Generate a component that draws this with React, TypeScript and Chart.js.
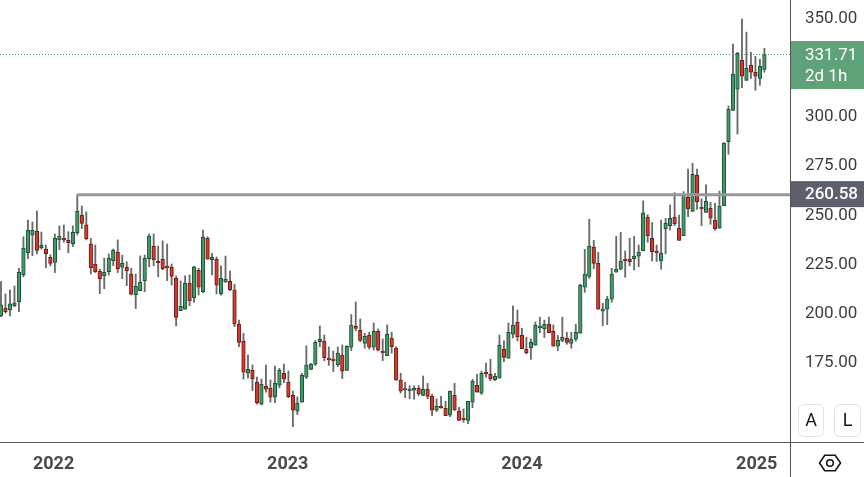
import { useEffect, useRef } from "react";
import { Chart, registerables } from "chart.js";

Chart.register(...registerables);

// weekly candles, first one opens the week of 11 Oct 2021
const firstWeek = Date.UTC(2021, 9, 11);
const yearLabels = ["2022", "2023", "2024", "2025"];
// 325 sits under the last-price label, 150 under the A/L buttons
const priceTicks = [175, 200, 225, 250, 275, 300, 325, 350];

const openPrices = [
  199.0, 203.0, 202.0, 204.2, 206.3, 219.9, 231.1, 240.0, 242.0, 233.7,
  232.9, 228.8, 226.2, 237.7, 238.1, 237.4, 235.7, 241.3, 250.2, 245.2,
  235.5, 225.2, 221.7, 219.5, 221.5, 227.1, 231.3, 223.7, 223.7, 220.2,
  209.8, 211.8, 216.9, 228.1, 234.4, 226.8, 227.8, 223.9, 223.7, 218.1,
  201.7, 202.4, 215.7, 208.3, 222.2, 211.3, 238.4, 227.6, 227.8, 210.3,
  216.1, 216.6, 212.2, 194.8, 186.1, 169.9, 171.4, 165.3, 154.2, 163.3,
  162.3, 157.7, 163.8, 169.9, 165.3, 158.7, 150.6, 155.2, 167.9, 171.9,
  174.5, 186.0, 186.1, 177.5, 176.7, 174.3, 179.1, 171.4, 183.1, 193.8,
  191.7, 185.1, 189.2, 183.1, 191.2, 180.7, 178.8, 187.7, 182.6, 166.4,
  161.8, 161.1, 161.3, 162.3, 158.7, 161.8, 158.2, 151.1, 153.1, 152.1,
  148.6, 158.7, 150.6, 146.7, 146.0, 155.2, 163.8, 159.8, 170.1, 169.4,
  166.6, 167.4, 182.1, 177.5, 189.8, 195.8, 189.2, 182.1, 182.9, 184.1,
  193.1, 192.6, 194.8, 191.2, 183.6, 186.6, 187.7, 185.1, 187.2, 190.2,
  213.6, 219.1, 233.9, 225.7, 201.4, 202.4, 207.5, 221.2, 222.7, 227.4,
  227.8, 228.1, 229.3, 232.1, 249.2, 238.4, 232.0, 226.9, 243.3, 244.8,
  249.2, 243.5, 239.7, 259.2, 252.1, 270.4, 253.8, 251.6, 253.6, 247.6,
  243.5, 255.0, 287.5, 303.4, 314.1, 328.8, 318.6, 326.2, 322.7, 319.6,
  324.2,
];

const highPrices = [
  216.4, 210.2, 212.2, 214.2, 223.2, 239.2, 247.7, 246.7, 252.3, 241.6,
  235.0, 230.0, 240.6, 244.7, 245.2, 241.8, 244.7, 260.58, 254.8, 251.8,
  238.4, 235.0, 222.7, 228.3, 230.5, 233.0, 237.6, 229.8, 226.5, 223.2,
  220.3, 229.5, 229.9, 240.6, 240.6, 234.5, 237.1, 235.5, 225.4, 219.3,
  216.8, 219.4, 219.8, 224.2, 223.2, 242.6, 239.2, 230.8, 228.9, 224.4,
  229.4, 221.8, 215.1, 196.9, 190.2, 179.2, 174.1, 167.9, 167.0, 174.1,
  166.5, 173.6, 172.4, 174.6, 171.1, 160.9, 157.9, 169.9, 183.8, 175.0,
  186.5, 193.9, 189.3, 183.3, 181.2, 183.3, 184.3, 183.9, 199.7, 206.1,
  197.5, 190.2, 190.7, 195.4, 192.4, 187.3, 194.4, 190.7, 183.4, 169.9,
  165.3, 163.5, 163.5, 163.6, 168.5, 164.8, 159.2, 156.9, 158.2, 155.7,
  160.8, 164.8, 152.6, 151.8, 155.7, 166.9, 169.4, 170.9, 175.1, 177.0,
  169.9, 189.3, 186.3, 195.4, 204.1, 202.0, 192.7, 188.2, 187.3, 195.9,
  198.4, 196.9, 198.4, 194.4, 189.1, 198.4, 190.7, 190.7, 194.8, 215.2,
  232.8, 248.1, 237.4, 231.3, 205.4, 209.0, 223.2, 239.4, 241.5, 232.0,
  238.4, 239.4, 235.0, 257.4, 250.4, 246.4, 235.0, 247.7, 248.5, 255.3,
  261.6, 250.2, 262.1, 273.6, 276.5, 273.6, 258.4, 265.5, 256.7, 256.2,
  262.4, 287.0, 305.6, 337.0, 332.8, 349.7, 343.1, 332.8, 330.8, 329.3,
  334.9,
];

const lowPrices = [
  198.6, 200.4, 199.0, 203.7, 201.2, 218.9, 228.1, 229.6, 230.5, 232.9,
  223.5, 224.4, 221.0, 232.6, 236.4, 231.1, 234.2, 240.1, 243.3, 237.6,
  220.3, 221.0, 210.3, 212.8, 219.8, 224.5, 221.0, 217.9, 214.4, 209.6,
  202.7, 211.8, 211.3, 224.0, 224.5, 218.9, 222.4, 216.9, 214.7, 193.9,
  201.7, 202.4, 204.2, 205.9, 209.6, 210.8, 227.8, 219.8, 210.2, 209.6,
  216.1, 211.8, 193.6, 183.4, 166.9, 167.4, 161.1, 154.2, 153.8, 160.3,
  155.2, 155.0, 162.6, 165.1, 157.5, 142.8, 148.9, 155.2, 167.2, 171.6,
  173.8, 183.4, 176.3, 173.9, 170.7, 173.3, 167.2, 171.2, 181.4, 191.5,
  185.9, 182.6, 182.2, 181.7, 181.2, 176.3, 178.8, 180.1, 166.4, 159.8,
  157.5, 156.9, 156.7, 158.5, 158.4, 156.9, 148.4, 150.4, 152.1, 148.4,
  147.9, 151.1, 146.0, 145.0, 144.3, 152.4, 160.3, 159.1, 167.9, 166.2,
  166.2, 167.4, 175.8, 177.5, 187.8, 186.3, 182.4, 179.7, 177.0, 184.1,
  190.5, 188.0, 190.5, 183.6, 181.4, 185.9, 184.6, 182.6, 186.1, 190.2,
  211.0, 218.1, 223.0, 202.4, 194.1, 194.6, 205.9, 221.2, 222.4, 218.6,
  224.4, 222.3, 224.0, 232.1, 236.4, 226.9, 226.6, 222.7, 230.5, 242.6,
  244.8, 237.4, 239.7, 249.4, 252.1, 253.1, 244.8, 251.6, 245.5, 242.5,
  243.5, 255.0, 281.1, 303.4, 291.4, 314.9, 318.6, 319.6, 313.6, 316.1,
  322.7,
];

const closePrices = [
  204.6, 201.2, 205.1, 205.6, 221.2, 233.4, 242.5, 242.5, 232.3, 234.9,
  230.6, 225.7, 238.4, 239.5, 237.6, 236.2, 241.5, 252.1, 246.0, 238.2,
  223.5, 221.5, 217.9, 221.2, 228.3, 232.3, 223.0, 225.7, 222.0, 210.0,
  214.0, 216.1, 228.3, 239.6, 227.6, 226.0, 223.0, 223.5, 219.1, 198.3,
  203.9, 215.7, 206.8, 223.9, 213.6, 238.9, 227.8, 228.8, 214.6, 218.1,
  217.6, 212.3, 194.8, 185.6, 170.4, 171.9, 167.2, 155.0, 164.3, 161.8,
  157.7, 164.8, 171.4, 166.9, 158.0, 151.1, 154.7, 168.9, 174.0, 174.5,
  185.6, 187.2, 177.8, 176.8, 176.3, 180.1, 170.9, 183.6, 194.3, 192.7,
  186.6, 188.7, 183.1, 191.2, 181.6, 180.3, 189.7, 183.4, 166.4, 160.8,
  161.4, 161.4, 162.3, 159.6, 161.8, 158.2, 151.1, 153.1, 152.4, 148.4,
  160.8, 151.1, 146.0, 146.4, 155.7, 165.8, 160.3, 169.9, 169.7, 167.2,
  168.4, 184.1, 178.0, 190.7, 194.3, 188.5, 182.4, 180.4, 185.6, 194.3,
  193.4, 194.8, 190.5, 183.6, 186.6, 188.2, 185.6, 187.2, 190.7, 214.6,
  220.2, 234.4, 225.7, 202.4, 202.5, 207.5, 220.2, 222.7, 226.8, 227.0,
  226.6, 229.4, 231.3, 251.3, 239.7, 231.6, 231.1, 230.9, 246.0, 248.5,
  245.8, 237.4, 260.4, 253.5, 270.9, 257.0, 253.4, 257.2, 248.6, 243.3,
  254.7, 286.7, 303.9, 321.7, 332.3, 320.7, 324.7, 322.7, 320.7, 325.7,
  331.71,
];

// horizontal level drawn from the 2022 high
const levelPrice = 260.58;
const countdown = "2d 1h";

const UP_FILL = "#46966a";
const UP_LINE = "#1a5233";
const DOWN_FILL = "#d13a2d";
const DOWN_LINE = "#721c17";
const WICK = "#6a6a6a";
const FONT = "Roboto";
const WEEK = 7 * 24 * 3600 * 1000;

const App = () => {
  const chartRef = useRef<HTMLCanvasElement>(null);
  const chartInstanceRef = useRef<Chart | null>(null);

  useEffect(() => {
    if (!chartRef.current) return;
    const ctx = chartRef.current.getContext("2d");
    if (!ctx) return;

    if (chartInstanceRef.current) {
      chartInstanceRef.current.destroy();
    }

    const n = closePrices.length;
    const idx = closePrices.map((_, i) => i);
    const isUp = idx.map((i) => closePrices[i] >= openPrices[i]);
    const last = closePrices[n - 1];
    const levelStart = highPrices.indexOf(levelPrice);
    const xMin = -0.22;
    const xMax = 175.7;
    const yearPos = yearLabels.map(
      (y) => (Date.UTC(Number(y), 0, 1) - firstWeek) / WEEK
    );

    const overlay = {
      id: "overlay",
      afterDraw(chart: any) {
        const { ctx: c, chartArea, scales } = chart;
        const right = chartArea.right;
        const bottom = chartArea.bottom;
        c.save();

        // pane separators
        c.strokeStyle = "#555555";
        c.lineWidth = 1;
        c.beginPath();
        c.moveTo(right + 0.5, 0);
        c.lineTo(right + 0.5, chart.height);
        c.moveTo(0, bottom + 0.5);
        c.lineTo(chart.width, bottom + 0.5);
        c.stroke();

        // last price label
        const py = scales.y.getPixelForValue(last);
        c.fillStyle = "#5fa27a";
        c.fillRect(right + 1, py - 13.5, chart.width - right - 1, 48);
        c.fillStyle = "#ffffff";
        c.font = `17px ${FONT}`;
        c.textAlign = "left";
        c.textBaseline = "middle";
        c.fillText(last.toFixed(2), right + 15, py + 1);
        c.fillText(countdown, right + 15, py + 22);

        // level label
        const ly = scales.y.getPixelForValue(levelPrice);
        c.fillStyle = "#5d606b";
        c.fillRect(right + 1, ly - 13.5, chart.width - right - 1, 26);
        c.fillStyle = "#ffffff";
        c.font = `500 17px ${FONT}`;
        c.fillText(levelPrice.toFixed(2), right + 15, ly);

        // A / L buttons
        const by = bottom - 38;
        [
          { x: right + 8, w: 25, t: "A" },
          { x: right + 44, w: 26, t: "L" },
        ].forEach((b) => {
          c.beginPath();
          c.roundRect(b.x + 0.5, by + 0.5, b.w, 32, 5);
          c.fillStyle = "#ffffff";
          c.fill();
          c.strokeStyle = "#e0e3eb";
          c.lineWidth = 1;
          c.stroke();
          c.fillStyle = "#131722";
          c.font = `18px ${FONT}`;
          c.textAlign = "center";
          c.fillText(b.t, b.x + b.w / 2 + 0.5, by + 17);
        });

        // settings icon
        const cx = right + 40;
        const cy = bottom + 21;
        c.strokeStyle = "#131722";
        c.lineWidth = 1.6;
        c.beginPath();
        for (let k = 0; k < 6; k++) {
          const a = (Math.PI / 3) * k;
          const px = cx + 10.5 * Math.cos(a);
          const pyy = cy + 9 * Math.sin(a);
          if (k === 0) c.moveTo(px, pyy);
          else c.lineTo(px, pyy);
        }
        c.closePath();
        c.stroke();
        c.beginPath();
        c.arc(cx, cy, 3.3, 0, Math.PI * 2);
        c.stroke();

        c.restore();
      },
    };

    chartInstanceRef.current = new Chart(ctx, {
      type: "bar",
      data: {
        datasets: [
          {
            type: "line",
            data: [
              { x: levelStart, y: levelPrice },
              { x: xMax, y: levelPrice },
            ],
            borderColor: "#9598a1",
            borderWidth: 3,
            pointRadius: 0,
            order: -1,
          },
          {
            type: "bar",
            data: idx.map((i) => ({ x: i, y: [openPrices[i], closePrices[i]] })),
            backgroundColor: isUp.map((u) => (u ? UP_FILL : DOWN_FILL)),
            borderColor: isUp.map((u) => (u ? UP_LINE : DOWN_LINE)),
            borderWidth: 1,
            borderSkipped: false,
            barThickness: 3.6,
            minBarLength: 1.5,
            grouped: false,
            order: 0,
          },
          {
            type: "bar",
            data: idx.map((i) => ({ x: i, y: [lowPrices[i], highPrices[i]] })),
            backgroundColor: WICK,
            barThickness: 1.2,
            grouped: false,
            order: 1,
          },
          {
            type: "line",
            data: [
              { x: xMin, y: last },
              { x: xMax, y: last },
            ],
            borderColor: "#3f9a68",
            borderWidth: 1,
            borderDash: [1, 2],
            pointRadius: 0,
            order: 2,
          },
        ] as any,
      },
      options: {
        responsive: true,
        maintainAspectRatio: false,
        animation: false,
        layout: { padding: 0 },
        plugins: {
          legend: { display: false },
          tooltip: { enabled: false },
        },
        scales: {
          x: {
            type: "linear",
            min: xMin,
            max: xMax,
            offset: false,
            grid: { display: false, offset: false, drawTicks: false },
            border: { display: false },
            afterBuildTicks: (axis: any) => {
              axis.ticks = yearPos.map((v) => ({ value: v }));
            },
            afterFit: (axis: any) => {
              axis.height = 35;
              axis.paddingLeft = 0;
              axis.paddingRight = 0;
            },
            ticks: {
              autoSkip: false,
              maxRotation: 0,
              padding: 12,
              color: "#4a4a4a",
              font: { family: FONT, size: 18, weight: "bold" },
              callback: (_v: any, i: number) => yearLabels[i],
            },
          },
          y: {
            type: "linear",
            position: "right",
            min: 135,
            max: 359.4,
            grid: { display: false, drawTicks: false },
            border: { display: false },
            afterBuildTicks: (axis: any) => {
              axis.ticks = priceTicks.map((v) => ({ value: v }));
            },
            afterFit: (axis: any) => {
              axis.width = 74;
              axis.paddingTop = 0;
              axis.paddingBottom = 0;
            },
            ticks: {
              padding: 15,
              color: "#3d3d3d",
              font: { family: FONT, size: 17 },
              callback: (v: any) => Number(v).toFixed(2),
            },
          },
        },
      },
      plugins: [overlay],
    });

    return () => {
      if (chartInstanceRef.current) {
        chartInstanceRef.current.destroy();
        chartInstanceRef.current = null;
      }
    };
  }, []);

  return (
    <div
      style={{
        position: "fixed",
        left: 0,
        top: 0,
        width: 864,
        height: 477,
        background: "#ffffff",
      }}
    >
      <canvas ref={chartRef}></canvas>
    </div>
  );
};

export default App;
